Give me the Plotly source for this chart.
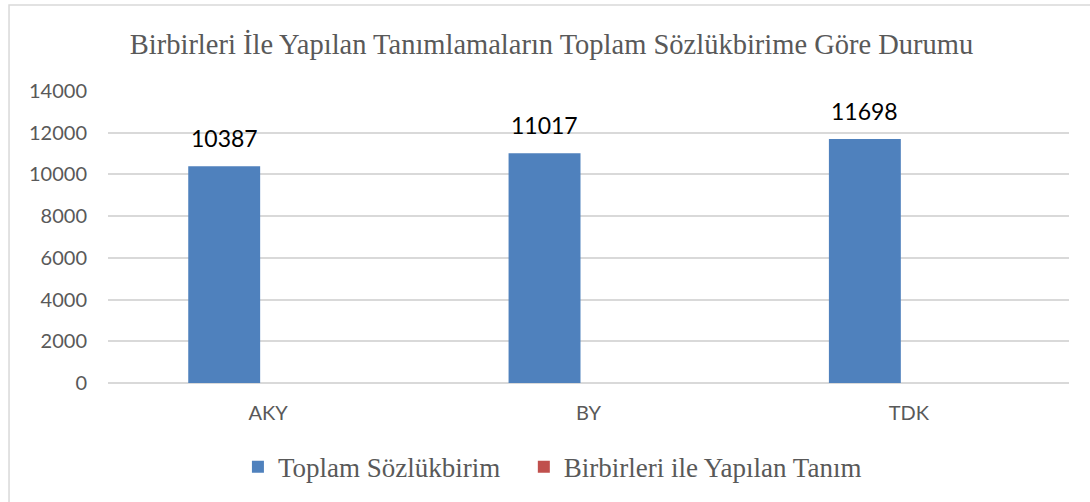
import plotly.graph_objects as go

categories = ["AKY", "BY", "TDK"]
toplam = [10387, 11017, 11698]
birbirleri = [0, 0, 0]
series_names = ["Toplam Sözlükbirim", "Birbirleri ile Yapılan Tanım"]
title_text = "Birbirleri İle Yapılan Tanımlamaların Toplam Sözlükbirime Göre Durumu"
y_ticks = [0, 2000, 4000, 6000, 8000, 10000, 12000, 14000]

BLUE = "#4F81BD"
RED = "#C0504D"
GRAY = "#595959"
GRID = "#D9D9D9"

fig = go.Figure()
fig.add_trace(go.Bar(x=categories, y=toplam, name=series_names[0],
                     legend="legend", showlegend=True,
                     marker=dict(color=BLUE, line=dict(width=0))))
fig.add_trace(go.Bar(x=categories, y=birbirleri, name=series_names[1],
                     legend="legend2", showlegend=True,
                     marker=dict(color=RED, line=dict(width=0))))

for c, v in zip(categories, toplam):
    fig.add_annotation(x=c, y=v, xref="x", yref="y", text=str(v),
                       showarrow=False, xshift=-44, yshift=12,
                       yanchor="bottom",
                       font=dict(family="Lato", size=23, color="#000000"))

fig.add_shape(type="rect", xref="paper", yref="paper",
              x0=-0.103, x1=1.2, y0=-0.6, y1=1.2945,
              line=dict(color=GRID, width=1.5), fillcolor="rgba(0,0,0,0)",
              layer="below")

legend_font = dict(family="Liberation Serif", size=27, color=GRAY)

fig.update_layout(
    width=1090, height=502, showlegend=True,
    margin=dict(l=108, r=21, t=91, b=119, autoexpand=False),
    paper_bgcolor="white", plot_bgcolor="white",
    barmode="group", bargap=0.451, bargroupgap=0.182,
    title=dict(text=title_text, xref="container", yref="container",
               x=0.506, y=1 - 44 / 502, xanchor="center", yanchor="middle",
               font=dict(family="Liberation Serif", size=28.5, color=GRAY)),
    legend=dict(orientation="h", xref="paper", x=0.1352, xanchor="left",
                yref="paper", y=-0.288, yanchor="middle",
                font=legend_font, itemclick=False),
    legend2=dict(orientation="h", xref="paper", x=0.4327, xanchor="left",
                 yref="paper", y=-0.288, yanchor="middle",
                 font=legend_font, itemclick=False),
    xaxis=dict(showgrid=False, showline=False, ticks="",
               ticklabelstandoff=16, automargin=False,
               tickfont=dict(family="Lato", size=20, color=GRAY)),
    yaxis=dict(range=[0, 14000], tickvals=y_ticks, tickformat="d",
               showgrid=True, automargin=False,
               gridcolor=GRID, gridwidth=1.5, zeroline=True,
               zerolinecolor=GRID, zerolinewidth=1.5, showline=False,
               ticks="", ticklabelstandoff=20,
               tickfont=dict(family="Lato", size=20, color=GRAY)),
)

fig.write_html("out.html", config={"displayModeBar": False},
               post_script="document.body.style.margin='0px';")
